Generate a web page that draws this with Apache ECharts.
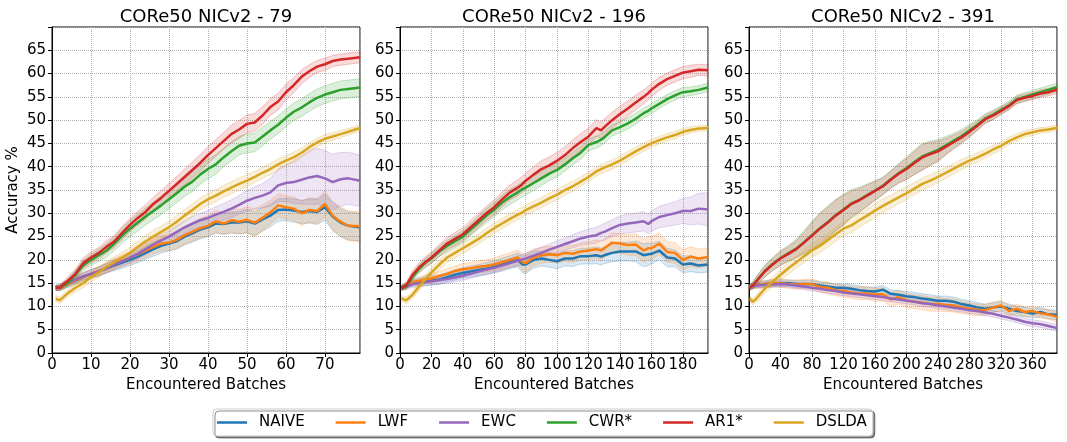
<!DOCTYPE html>
<html>
<head>
<meta charset="utf-8">
<script src="https://cdn.jsdelivr.net/npm/echarts@6/dist/echarts.min.js"></script>
<style>
html,body{margin:0;padding:0;background:#fff}
#chart{width:1067px;height:442px}
</style>
</head>
<body>
<div id="chart"></div>
<script>
var METHODS = ['NAIVE', 'LWF', 'EWC', 'CWR*', 'AR1*', 'DSLDA'];
var COLORS = ['#1f77b4', '#ff7f0e', '#9467bd', '#2ca02c', '#d62728', '#daa520'];
var TITLES = ['CORe50 NICv2 - 79', 'CORe50 NICv2 - 196', 'CORe50 NICv2 - 391'];

// panel 1: 79 batches
var x79 = [1,2,4,6,8,10,12,14,16,18,20,22,24,26,28,30,32,34,36,38,40,42,44,46,48,50,52,54,56,58,60,62,64,66,68,70,72,74,76,79];
var naive79 = [14.0,14.0,14.8,15.5,16.3,17.0,17.5,18.2,18.8,19.4,20.0,20.7,21.5,22.3,23.0,23.5,24.0,25.0,25.7,26.5,27.0,27.8,27.7,28.0,28.0,28.3,27.8,28.7,29.5,30.7,30.8,30.6,30.3,30.5,30.3,31.3,29.3,28.0,27.3,27.0];
var naive79Sd = [0.5,0.6,0.7,0.8,0.8,0.9,1.0,1.0,1.1,1.2,1.2,1.3,1.4,1.5,1.5,1.6,1.7,1.8,1.9,2.0,2.0,2.1,2.2,2.3,2.4,2.5,2.6,2.5,2.4,2.4,2.4,2.5,2.5,2.6,2.7,2.8,3.0,3.0,3.0,3.0];
var lwf79 = [14.0,14.0,14.8,15.6,16.4,17.0,17.6,18.4,19.1,19.8,20.5,21.2,22.0,22.8,23.5,23.7,24.3,25.3,26.0,26.8,27.3,28.3,27.8,28.5,28.2,28.6,28.0,29.0,30.2,31.7,31.3,31.0,30.0,30.7,30.5,32.0,29.5,28.2,27.3,27.2];
var lwf79Sd = [0.5,0.6,0.7,0.8,0.9,1.0,1.0,1.1,1.2,1.2,1.3,1.4,1.5,1.5,1.6,1.7,1.8,1.9,2.0,2.1,2.2,2.3,2.4,2.5,2.6,2.8,3.0,2.8,2.6,2.5,2.5,2.5,2.6,2.6,2.7,2.8,3.0,3.2,3.2,3.2];
var ewc79 = [14.0,14.2,15.0,15.8,16.5,17.0,17.5,18.2,19.0,19.7,20.5,21.3,22.3,23.3,24.2,25.0,26.0,27.0,27.8,28.5,29.0,29.7,30.3,31.0,31.8,32.7,33.3,33.8,34.5,36.0,36.5,36.7,37.2,37.7,38.0,37.5,36.7,37.3,37.5,37.0];
var ewc79Sd = [0.5,0.6,0.7,0.8,0.8,0.9,0.9,1.0,1.0,1.0,1.1,1.1,1.2,1.2,1.3,1.3,1.4,1.4,1.5,1.5,1.6,1.7,1.8,1.9,2.0,2.2,2.4,2.6,3.0,3.5,4.0,4.6,5.2,5.8,6.0,6.0,6.0,5.8,5.6,5.5];
var cwr79 = [14.0,14.0,15.0,16.8,18.8,20.0,21.0,22.0,23.5,25.2,26.7,28.0,29.3,30.5,31.7,33.0,34.3,35.7,36.8,38.3,39.5,40.5,42.0,43.3,44.5,45.0,45.2,46.5,47.8,49.0,50.5,51.8,52.7,53.8,54.8,55.5,56.0,56.5,56.7,57.0];
var cwr79Sd = [0.5,0.6,0.8,1.0,1.1,1.2,1.3,1.4,1.5,1.6,1.7,1.8,1.8,1.9,2.0,2.0,2.0,2.1,2.1,2.1,2.1,2.1,2.0,2.0,2.0,2.0,2.0,2.0,1.9,1.9,1.9,1.9,1.9,1.9,1.9,1.9,1.9,1.9,1.9,1.9];
var ar179 = [14.0,14.0,15.5,17.0,19.3,20.5,21.5,22.8,24.0,25.8,27.5,29.0,30.3,32.0,33.3,34.8,36.3,37.8,39.3,40.8,42.5,44.0,45.5,47.0,48.0,49.2,49.5,51.0,52.8,54.0,56.0,57.5,59.3,60.5,61.5,62.0,62.7,63.0,63.2,63.5];
var ar179Sd = [0.5,0.6,0.8,1.0,1.1,1.2,1.2,1.3,1.3,1.4,1.4,1.5,1.5,1.5,1.6,1.6,1.6,1.7,1.7,1.8,1.8,1.8,1.8,1.9,1.9,1.9,1.9,1.9,1.8,1.8,1.7,1.6,1.5,1.4,1.3,1.3,1.2,1.2,1.2,1.2];
var dslda79 = [11.7,11.3,12.8,14.0,15.0,16.3,17.3,18.5,19.5,20.5,21.5,22.8,24.0,25.0,26.0,27.0,28.2,29.5,30.7,32.0,33.0,33.8,34.7,35.5,36.3,37.0,37.8,38.7,39.5,40.5,41.3,42.0,43.0,44.2,45.2,46.0,46.5,47.0,47.5,48.3];
var dslda79Sd = [0.6,0.7,0.8,0.9,1.0,1.0,1.1,1.1,1.2,1.2,1.2,1.2,1.3,1.3,1.3,1.3,1.3,1.3,1.3,1.3,1.3,1.3,1.3,1.3,1.3,1.3,1.2,1.2,1.2,1.2,1.1,1.1,1.0,1.0,0.9,0.9,0.8,0.8,0.7,0.7];

// panel 2: 196 batches
var x196 = [1,4,8,12,16,20,25,30,35,40,45,50,55,60,65,70,75,78,80,85,90,95,100,105,110,115,120,125,128,130,135,140,145,150,155,158,160,165,170,175,180,185,190,196];
var naive196 = [14.0,14.5,15.0,15.3,15.4,15.6,15.8,16.3,16.8,17.2,17.5,17.8,18.1,18.5,19.0,19.5,20.0,19.0,19.0,20.0,20.3,20.0,19.7,20.3,20.3,20.8,20.8,21.0,20.7,21.0,21.5,21.8,21.8,21.8,21.0,21.2,21.3,22.0,20.5,20.3,19.0,19.2,18.8,19.0];
var naive196Sd = [0.5,0.6,0.7,0.8,0.9,1.0,1.0,1.0,1.1,1.1,1.2,1.2,1.3,1.3,1.4,1.4,1.5,1.8,2.0,1.8,1.6,1.6,1.6,1.6,1.7,1.7,1.7,1.8,1.8,1.8,1.9,2.0,2.0,2.2,2.5,2.4,2.2,2.0,2.0,1.8,1.8,1.7,1.6,1.6];
var lwf196 = [14.0,14.5,15.2,15.5,15.8,16.0,16.5,17.0,17.6,18.0,18.2,18.5,18.7,19.0,19.5,20.0,20.5,19.5,19.3,20.5,21.0,21.2,21.0,21.5,21.3,21.8,22.0,22.3,22.0,22.5,23.7,23.5,23.2,23.3,22.0,22.5,22.5,23.5,21.7,21.5,20.0,20.7,20.3,20.6];
var lwf196Sd = [0.5,0.6,0.7,0.8,0.9,1.0,1.0,1.1,1.1,1.2,1.2,1.3,1.3,1.4,1.5,1.5,1.6,1.8,2.0,1.8,1.7,1.7,1.7,1.8,1.8,1.8,1.9,2.0,2.0,2.0,2.1,2.1,2.2,2.3,2.5,2.5,2.4,2.3,2.2,2.2,2.2,2.1,2.0,2.0];
var ewc196 = [14.0,14.2,14.8,15.0,15.2,15.4,15.6,15.9,16.2,16.6,17.0,17.5,17.9,18.3,18.8,19.3,19.8,20.1,20.3,20.9,21.5,22.2,22.8,23.4,24.0,24.6,25.0,25.3,25.8,26.0,26.8,27.5,27.8,28.0,28.3,27.7,28.3,29.2,29.6,30.0,30.5,30.5,31.0,30.8];
var ewc196Sd = [0.5,0.6,0.7,0.8,0.8,0.8,0.9,0.9,0.9,1.0,1.0,1.0,1.0,1.0,1.0,1.0,1.1,1.1,1.1,1.2,1.2,1.2,1.3,1.3,1.4,1.5,1.6,1.7,1.7,1.8,1.8,1.9,2.0,2.0,2.1,2.1,2.2,2.3,2.4,2.5,2.7,3.0,3.3,3.6];
var cwr196 = [14.0,14.3,16.3,18.0,19.3,20.3,21.8,23.0,24.0,25.0,26.5,28.0,29.5,30.8,32.3,33.5,34.5,35.2,35.5,36.5,37.5,38.5,39.3,40.5,41.8,43.0,44.7,45.3,45.8,46.3,47.8,48.5,49.3,50.3,51.5,52.0,52.5,53.5,54.5,55.3,56.0,56.2,56.5,57.0];
var cwr196Sd = [0.5,0.6,0.8,0.9,1.0,1.1,1.1,1.2,1.2,1.3,1.3,1.4,1.5,1.5,1.6,1.6,1.6,1.6,1.6,1.6,1.5,1.5,1.5,1.4,1.4,1.4,1.3,1.3,1.3,1.3,1.2,1.2,1.2,1.2,1.1,1.1,1.1,1.0,1.0,1.0,1.0,0.9,0.9,0.9];
var ar1196 = [14.0,14.5,16.8,18.3,19.5,20.5,22.0,23.5,24.5,25.5,27.0,28.5,30.0,31.3,33.0,34.5,35.5,36.3,37.0,38.3,39.5,40.3,41.3,42.5,44.0,45.3,46.5,48.3,47.8,48.5,50.0,51.3,52.5,53.8,55.0,55.8,56.5,57.8,58.8,59.5,60.2,60.5,60.8,60.7];
var ar1196Sd = [0.5,0.7,0.9,1.0,1.1,1.2,1.3,1.3,1.4,1.4,1.5,1.5,1.5,1.6,1.6,1.6,1.7,1.7,1.7,1.7,1.8,1.8,1.8,1.8,1.8,1.8,1.8,1.8,1.8,1.8,1.7,1.7,1.6,1.6,1.5,1.5,1.4,1.4,1.3,1.3,1.3,1.3,1.2,1.2];
var dslda196 = [11.7,11.3,12.5,14.2,15.8,17.3,19.0,20.5,21.5,22.5,23.5,24.5,25.7,26.8,27.8,28.8,29.7,30.2,30.7,31.5,32.3,33.2,34.0,35.0,35.8,36.8,37.8,39.0,39.5,39.8,40.5,41.3,42.3,43.3,44.2,44.7,45.0,45.7,46.3,46.8,47.5,47.9,48.2,48.3];
var dslda196Sd = [0.6,0.7,0.8,0.9,1.0,1.0,1.1,1.1,1.1,1.1,1.1,1.1,1.1,1.1,1.1,1.1,1.1,1.1,1.1,1.1,1.1,1.1,1.1,1.1,1.1,1.0,1.0,1.0,1.0,1.0,1.0,1.0,1.0,0.9,0.9,0.9,0.9,0.8,0.8,0.8,0.7,0.7,0.6,0.6];

// panel 3: 391 batches
var x391 = [1,5,10,20,30,40,50,60,70,80,90,100,110,120,130,140,150,160,170,180,190,200,210,220,230,240,250,260,270,280,290,300,310,320,330,340,350,360,370,380,390,391];
var naive391 = [14.3,14.5,14.6,14.8,15.0,15.0,15.0,14.8,14.8,14.8,14.5,14.3,14.0,14.0,13.8,13.5,13.3,13.2,13.6,12.7,12.5,12.2,12.0,11.7,11.5,11.2,11.2,11.0,10.5,10.2,9.8,9.5,9.8,10.0,9.5,9.0,8.8,8.5,8.8,8.3,8.2,8.2];
var naive391Sd = [0.5,0.6,0.6,0.7,0.7,0.7,0.7,0.7,0.8,0.8,0.8,0.8,0.8,0.8,0.9,0.9,0.9,0.9,0.9,0.9,0.9,1.0,1.0,1.0,1.0,1.0,1.0,1.0,1.0,1.0,1.0,1.0,1.0,1.0,1.0,1.0,1.0,1.0,1.0,1.0,1.0,1.0];
var lwf391 = [14.3,14.5,14.6,14.8,15.0,15.0,14.8,14.7,14.8,14.8,14.2,14.0,13.5,13.3,13.0,12.8,12.8,12.5,12.6,11.5,12.0,11.3,11.0,10.8,10.5,10.5,10.3,10.2,9.8,9.5,9.3,9.2,9.8,10.2,9.0,9.5,8.8,9.0,8.5,8.3,7.8,7.8];
var lwf391Sd = [0.5,0.6,0.7,0.8,0.8,0.9,0.9,1.0,1.0,1.1,1.1,1.2,1.2,1.2,1.3,1.3,1.3,1.4,1.4,1.5,1.5,1.5,1.5,1.5,1.5,1.5,1.4,1.4,1.3,1.3,1.2,1.2,1.1,1.1,1.1,1.0,1.0,1.0,1.0,1.0,1.0,1.0];
var ewc391 = [14.3,14.4,14.5,14.6,14.7,14.8,14.7,14.5,14.3,14.0,13.8,13.5,13.3,13.0,12.8,12.6,12.4,12.2,12.0,11.7,11.5,11.2,11.0,10.7,10.5,10.2,10.0,9.7,9.5,9.2,9.0,8.7,8.4,8.0,7.6,7.2,6.7,6.4,6.2,5.8,5.4,5.4];
var ewc391Sd = [0.4,0.5,0.5,0.6,0.6,0.6,0.6,0.6,0.7,0.7,0.7,0.7,0.7,0.7,0.7,0.7,0.7,0.7,0.7,0.7,0.7,0.7,0.7,0.7,0.7,0.7,0.7,0.7,0.7,0.7,0.7,0.7,0.7,0.7,0.7,0.7,0.7,0.7,0.7,0.7,0.7,0.7];
var cwr391 = [14.0,14.5,15.6,17.6,19.1,20.4,21.4,22.4,23.8,25.3,26.8,28.1,29.6,30.8,32.1,32.9,33.9,34.9,35.9,37.3,38.6,39.7,41.0,42.2,42.9,43.6,44.6,45.6,46.6,47.8,49.0,50.4,51.2,52.2,53.2,54.5,55.0,55.5,56.0,56.5,57.0,57.0];
var cwr391Sd = [0.5,0.8,1.0,1.3,1.4,1.6,1.7,2.0,2.5,3.0,3.3,3.5,3.4,3.3,3.0,2.7,2.4,2.1,1.9,1.9,2.1,2.4,2.6,2.8,2.6,2.3,1.9,1.6,1.4,1.3,1.1,1.0,1.0,0.9,0.9,0.9,0.9,0.9,0.9,0.9,0.9,0.9];
var ar1391 = [14.0,14.5,15.5,17.5,19.0,20.3,21.3,22.3,23.7,25.2,26.7,28.0,29.5,30.7,32.0,32.8,33.8,34.8,35.8,37.2,38.5,39.5,40.8,42.0,42.7,43.3,44.3,45.3,46.3,47.5,48.8,50.2,51.0,52.0,53.0,54.3,54.8,55.2,55.7,56.0,56.5,56.5];
var ar1391Sd = [0.5,0.8,1.0,1.2,1.3,1.5,1.5,1.8,2.2,2.8,3.2,3.3,3.3,3.2,2.8,2.5,2.3,2.0,1.8,1.8,2.0,2.3,2.5,2.8,2.5,2.2,1.8,1.5,1.3,1.2,1.0,0.9,0.9,0.8,0.8,0.8,0.8,0.8,0.8,0.8,0.8,0.8];
var dslda391 = [11.7,11.0,11.8,13.8,15.3,16.8,18.2,19.5,20.8,22.0,23.0,24.2,25.5,26.7,27.4,28.5,29.5,30.6,31.6,32.5,33.4,34.3,35.3,36.3,37.0,37.8,38.7,39.6,40.5,41.3,42.0,42.8,43.7,44.5,45.5,46.3,47.0,47.4,47.8,48.0,48.3,48.3];
var dslda391Sd = [0.6,0.7,0.8,1.0,1.1,1.2,1.3,1.3,1.4,1.4,1.5,1.5,1.5,1.5,1.5,1.5,1.5,1.5,1.5,1.4,1.4,1.4,1.3,1.3,1.3,1.2,1.2,1.1,1.1,1.0,1.0,0.9,0.9,0.9,0.8,0.8,0.7,0.7,0.6,0.6,0.6,0.6];

var X_MAX = [79, 196, 391];
var X_STEP = [10, 20, 40];

var panels = [
  {x: x79, mean: [naive79, lwf79, ewc79, cwr79, ar179, dslda79], sd: [naive79Sd, lwf79Sd, ewc79Sd, cwr79Sd, ar179Sd, dslda79Sd]},
  {x: x196, mean: [naive196, lwf196, ewc196, cwr196, ar1196, dslda196], sd: [naive196Sd, lwf196Sd, ewc196Sd, cwr196Sd, ar1196Sd, dslda196Sd]},
  {x: x391, mean: [naive391, lwf391, ewc391, cwr391, ar1391, dslda391], sd: [naive391Sd, lwf391Sd, ewc391Sd, cwr391Sd, ar1391Sd, dslda391Sd]}
];

var FONT = 'DejaVu Sans';
var LEFTS = [52, 400, 749];
// flat line handle for the legend (the leading moves keep the full box)
var LINE_ICON = 'path://M0,0M30,14M0,5.75H30V8.25H0Z';

function rgba(hex, a) {
  var n = parseInt(hex.slice(1), 16);
  return 'rgba(' + (n >> 16) + ',' + ((n >> 8) & 255) + ',' + (n & 255) + ',' + a + ')';
}

var grids = [], xAxes = [], yAxes = [], titles = [], lines = [], bands = [];
panels.forEach(function (p, k) {
  grids.push({left: LEFTS[k], top: 27, width: 308, height: 326, show: true, borderColor: '#000', borderWidth: 1, backgroundColor: 'transparent'});
  titles.push({text: TITLES[k], left: LEFTS[k] + 154, top: 8, textAlign: 'center', padding: 0,
    textStyle: {fontFamily: FONT, fontSize: 18, fontWeight: 'normal', color: '#000'}});
  xAxes.push({
    type: 'value', gridIndex: k, min: 0, max: X_MAX[k], interval: X_STEP[k],
    name: 'Encountered Batches', nameLocation: 'middle', nameGap: 23,
    nameTextStyle: {fontFamily: FONT, fontSize: 15, color: '#000'},
    axisLine: {lineStyle: {color: '#000', width: 1}},
    axisTick: {show: true, length: 4, lineStyle: {color: '#000'}},
    axisLabel: {fontFamily: FONT, fontSize: 15, color: '#000', margin: 5, showMaxLabel: false,
      formatter: function (v) { return v % X_STEP[k] === 0 ? String(v) : ''; }},
    splitLine: {show: true, lineStyle: {type: 'dotted', color: '#b0b0b0', width: 1}}
  });
  yAxes.push({
    type: 'value', gridIndex: k, min: 0, max: 70, interval: 5,
    name: k === 0 ? 'Accuracy %' : '', nameLocation: 'middle', nameGap: 31,
    nameTextStyle: {fontFamily: FONT, fontSize: 15, color: '#000'},
    axisLine: {show: true, lineStyle: {color: '#000', width: 1}},
    axisTick: {show: true, length: 4, lineStyle: {color: '#000'}},
    axisLabel: {fontFamily: FONT, fontSize: 15, color: '#000', margin: 6,
      formatter: function (v) { return v === 70 ? '' : String(v); }},
    splitLine: {show: true, lineStyle: {type: 'dotted', color: '#b0b0b0', width: 1}}
  });
  METHODS.forEach(function (m, i) {
    var xs = p.x, ys = p.mean[i], sd = p.sd[i];
    lines.push({
      name: m, type: 'line', xAxisIndex: k, yAxisIndex: k, z: 3,
      symbol: 'none', showSymbol: false, color: COLORS[i],
      lineStyle: {width: 2.5, color: COLORS[i]},
      data: xs.map(function (x, j) { return [x, ys[j]]; })
    });
    bands.push({
      name: m, type: 'custom', xAxisIndex: k, yAxisIndex: k, z: 1, silent: true,
      data: [[xs[0], ys[0]]],
      renderItem: function (params, api) {
        var pts = [], j;
        for (j = 0; j < xs.length; j++) pts.push(api.coord([xs[j], ys[j] + sd[j]]));
        for (j = xs.length - 1; j >= 0; j--) pts.push(api.coord([xs[j], ys[j] - sd[j]]));
        return {type: 'polygon', shape: {points: pts},
          style: {fill: rgba(COLORS[i], 0.17), stroke: rgba(COLORS[i], 0.25), lineWidth: 1}};
      }
    });
  });
});

var chart = echarts.init(document.getElementById('chart'), null, {renderer: 'canvas'});
chart.setOption({
  animation: false,
  backgroundColor: '#fff',
  textStyle: {fontFamily: FONT},
  title: titles,
  grid: grids,
  xAxis: xAxes,
  yAxis: yAxes,
  legend: {
    data: METHODS.map(function (m) { return {name: m, icon: LINE_ICON}; }),
    left: 213, top: 409, itemWidth: 30, itemHeight: 14, itemGap: 31,
    padding: [6, 6, 6, 4], backgroundColor: '#fff', borderColor: '#cccccc', borderWidth: 1, borderRadius: 4,
    shadowColor: 'rgba(0,0,0,0.45)', shadowOffsetX: 2, shadowOffsetY: 2, shadowBlur: 0,
    textStyle: {fontFamily: FONT, fontSize: 15, color: '#000', padding: [0, 0, 0, 7]}
  },
  series: lines.concat(bands)
});
</script>
</body>
</html>
